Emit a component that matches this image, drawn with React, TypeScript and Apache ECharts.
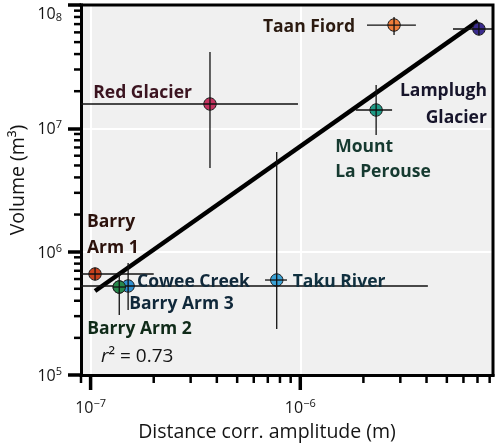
import React, { useEffect, useRef } from 'react';
import * as echarts from 'echarts';

// ---------------- data ----------------
const eventNames = [
  'Barry Arm 3',
  'Red Glacier',
  'Taan Fiord',
  'Lamplugh Glacier',
  'Mount La Perouse',
  'Taku River',
  'Barry Arm 1',
  'Cowee Creek',
  'Barry Arm 2',
];
const displayLabels = [
  'Barry Arm 3',
  'Red Glacier',
  'Taan Fiord',
  'Lamplugh\nGlacier',
  'Mount\nLa Perouse',
  'Taku River',
  'Barry\nArm 1',
  'Cowee Creek',
  'Barry Arm 2',
];
// distance-corrected amplitude (m)
const amplitudeM = [1.37e-7, 3.71e-7, 2.8e-6, 7.11e-6, 2.3e-6, 7.72e-7, 1.05e-7, 1.51e-7, 1.37e-7];
const amplitudeLow = [1.33e-7, 5e-8, 2.08e-6, 5.35e-6, 1.84e-6, 6.79e-7, 5e-8, 5e-8, 1.33e-7];
const amplitudeHigh = [1.41e-7, 9.75e-7, 3.56e-6, 9.5e-6, 2.74e-6, 8.64e-7, 2.0e-7, 4.06e-6, 1.41e-7];
// volume (m^3)
const volumeM3 = [5.17e5, 1.575e7, 6.88e7, 6.39e7, 1.408e7, 5.89e5, 6.59e5, 5.27e5, 5.17e5];
const volumeLow = [4.9e5, 4.77e6, 5.71e7, 6.0e7, 8.83e6, 2.36e5, 6.3e5, 3.37e5, 3.06e5];
const volumeHigh = [5.5e5, 4.16e7, 7.99e7, 6.8e7, 2.245e7, 6.43e6, 6.9e5, 8.09e5, 6.84e5];

// regression line end points
const fitAmplitude = [1.05e-7, 7.03e-6];
const fitVolume = [4.8e5, 7.41e7];
const rSquared = '0.73';

// axis ranges and ticks
const xMin = 9e-8;
const xMax = 8.3e-6;
const yMin = 1e5;
const yMax = 1e8;
const xMajorTicks = [1e-7, 1e-6];
const xMinorTicks = [
  9e-8, 2e-7, 3e-7, 4e-7, 5e-7, 6e-7, 7e-7, 8e-7, 9e-7,
  2e-6, 3e-6, 4e-6, 5e-6, 6e-6, 7e-6, 8e-6,
];
const yMajorTicks = [1e5, 1e6, 1e7, 1e8];
const yMinorTicks = [
  2e5, 3e5, 4e5, 5e5, 6e5, 7e5, 8e5, 9e5,
  2e6, 3e6, 4e6, 5e6, 6e6, 7e6, 8e6, 9e6,
  2e7, 3e7, 4e7, 5e7, 6e7, 7e7, 8e7, 9e7,
];

// ---------------- styles ----------------
const markerColors = ['#2f7fb0', '#c4335f', '#f07d3a', '#3a2b8e', '#1f9b86', '#3aa2d6', '#c9421d', '#2f8fd0', '#27884a'];
const labelColors = ['#10283a', '#3b1420', '#2b1a10', '#17152b', '#163a30', '#10303f', '#2c120c', '#10283a', '#0f2a18'];

const labelLayout: Record<string, { dx: number; dy: number; align: string; va: string; lh: number }> = {
  'Barry Arm 3': { dx: 10, dy: 15, align: 'left', va: 'middle', lh: 22 },
  'Red Glacier': { dx: -18, dy: -13, align: 'right', va: 'middle', lh: 22 },
  'Taan Fiord': { dx: -39, dy: 0, align: 'right', va: 'middle', lh: 22 },
  'Lamplugh Glacier': { dx: 8, dy: 46.5, align: 'right', va: 'top', lh: 27 },
  'Mount La Perouse': { dx: -41, dy: 22.5, align: 'left', va: 'top', lh: 25 },
  'Taku River': { dx: 16, dy: 0, align: 'left', va: 'middle', lh: 22 },
  'Barry Arm 1': { dx: -8, dy: -67.5, align: 'left', va: 'top', lh: 26 },
  'Cowee Creek': { dx: 9, dy: -6, align: 'left', va: 'middle', lh: 22 },
  'Barry Arm 2': { dx: -32, dy: 40, align: 'left', va: 'middle', lh: 22 },
};

const FONT = '"Open Sans", "Noto Sans", sans-serif';
const TXT = '#141414';

// tick marks drawn as short lines, placed through the axes' own scales
const tickSeries = (values: number[], dir: 'x' | 'y', len: number, width: number) => ({
  type: 'custom',
  clip: false,
  z: 6,
  data: values.map((v) => (dir === 'x' ? [v, yMin] : [xMin, v])),
  renderItem: (_p: any, api: any) => {
    const p = api.coord([api.value(0), api.value(1)]);
    const shape =
      dir === 'x'
        ? { x1: p[0], y1: p[1], x2: p[0], y2: p[1] + len }
        : { x1: p[0], y1: p[1], x2: p[0] - len, y2: p[1] };
    return { type: 'line', shape, style: { stroke: '#000', lineWidth: width } };
  },
});

export default function App() {
  const ref = useRef<HTMLDivElement>(null);

  useEffect(() => {
    if (!ref.current) return;
    const chart = echarts.init(ref.current, null, { renderer: 'svg' });

    const pointData = eventNames.map((n, i) => ({
      name: n,
      value: [amplitudeM[i], volumeM3[i], amplitudeLow[i], amplitudeHigh[i], volumeLow[i], volumeHigh[i]],
    }));
    const fitData = fitAmplitude.map((x, i) => [x, fitVolume[i]]);

    const exp = (v: number) => Math.round(Math.log10(v));
    const supText = (e: number) => (e < 0 ? '\u2212' + -e : String(e));

    const baseRich = {
      b: { fontSize: 16, fontFamily: FONT, color: TXT, lineHeight: 20 },
      s: { fontSize: 11, fontFamily: FONT, color: TXT, lineHeight: 12, verticalAlign: 'top' },
      bt: { fontSize: 16, fontFamily: FONT, color: TXT, lineHeight: 20, padding: [16, 0, 0, 0] },
      st: { fontSize: 11, fontFamily: FONT, color: TXT, lineHeight: 12, verticalAlign: 'top', padding: [16, 0, 0, 0] },
    };

    const option: any = {
      animation: false,
      grid: {
        left: 81,
        right: 7,
        top: 5,
        bottom: 71,
        show: true,
        backgroundColor: '#f0f0f0',
        borderWidth: 0,
        containLabel: false,
        outerBoundsMode: 'none',
      },
      xAxis: {
        type: 'log',
        logBase: 10,
        min: xMin,
        max: xMax,
        position: 'bottom',
        axisLine: { show: true, onZero: false, lineStyle: { color: '#000', width: 3, cap: 'square' } },
        axisTick: { show: false },
        minorTick: { show: false },
        axisLabel: {
          show: true,
          customValues: xMajorTicks,
          margin: 22,
          formatter: (v: number) => `{b|10}{s|${supText(exp(v))}}`,
          rich: baseRich,
        },
        splitLine: { show: true, lineStyle: { color: '#ffffff', width: 2 } },
        name: 'Distance corr. amplitude (m)',
        nameLocation: 'middle',
        nameGap: 45,
        nameTextStyle: { fontSize: 19.5, fontFamily: FONT, color: TXT, padding: [0, 40, 0, 0] },
      },
      yAxis: {
        type: 'log',
        logBase: 10,
        min: yMin,
        max: yMax,
        position: 'left',
        axisLine: { show: true, onZero: false, lineStyle: { color: '#000', width: 3, cap: 'square' } },
        axisTick: { show: true, length: 13, lineStyle: { color: '#000', width: 3.5 } },
        minorTick: { show: false },
        axisLabel: {
          show: true,
          customValues: yMajorTicks,
          margin: 19,
          formatter: (v: number) => {
            const e = exp(v);
            return e === 8 ? `{bt|10}{st|${e}}` : `{b|10}{s|${supText(e)}}`;
          },
          rich: baseRich,
        },
        splitLine: { show: true, lineStyle: { color: '#ffffff', width: 2 } },
        name: 'Volume (m\u00B3)',
        nameLocation: 'middle',
        nameRotate: 90,
        nameGap: 55,
        nameTextStyle: { fontSize: 19.5, fontFamily: FONT, color: TXT, padding: [0, 0, 0, 20] },
      },
      graphic: [
        {
          type: 'text',
          left: 101,
          top: 345,
          silent: true,
          style: {
            text: `{i|r}{n|\u00B2 = ${rSquared}}`,
            rich: {
              i: { fontSize: 19, fontFamily: FONT, fontStyle: 'italic', fill: TXT, color: TXT },
              n: { fontSize: 19, fontFamily: FONT, fill: TXT, color: TXT },
            },
          },
        },
      ],
      series: [
        tickSeries(xMajorTicks, 'x', 15, 3.5),
        tickSeries(xMinorTicks, 'x', 8, 2.5),
        tickSeries(yMinorTicks, 'y', 7, 2.5),
        // top and right frame lines, through the scales
        {
          type: 'line',
          data: [[xMin, yMax], [xMax, yMax], [xMax, yMin]],
          symbol: 'none',
          clip: false,
          silent: true,
          z: 5,
          lineStyle: { color: '#000', width: 3, cap: 'square', join: 'miter' },
        },
        {
          type: 'line',
          data: fitData,
          symbol: 'none',
          clip: false,
          silent: true,
          z: 2,
          lineStyle: { color: '#000', width: 4.5 },
        },
        {
          type: 'custom',
          clip: false,
          z: 3,
          data: pointData,
          renderItem: (params: any, api: any) => {
            const i = params.dataIndex;
            const x = api.value(0);
            const y = api.value(1);
            const c = api.coord([x, y]);
            const xl = api.coord([api.value(2), y]);
            const xh = api.coord([api.value(3), y]);
            const yl = api.coord([x, api.value(4)]);
            const yh = api.coord([x, api.value(5)]);
            const lo = api.coord([xMin, yMin]);
            const hi = api.coord([xMax, yMax]);
            const r = 6.2;
            const ls = { stroke: '#111', lineWidth: 1.3 };
            return {
              type: 'group',
              children: [
                {
                  type: 'circle',
                  shape: { cx: c[0], cy: c[1], r },
                  style: { fill: markerColors[i], stroke: '#1a1a1a', lineWidth: 1 },
                },
                {
                  type: 'line',
                  shape: {
                    x1: Math.max(lo[0], Math.min(xl[0], c[0] - r)),
                    y1: c[1],
                    x2: Math.min(hi[0], Math.max(xh[0], c[0] + r)),
                    y2: c[1],
                  },
                  style: ls,
                },
                {
                  type: 'line',
                  shape: {
                    x1: c[0],
                    y1: Math.min(lo[1], Math.max(yl[1], c[1] + r)),
                    x2: c[0],
                    y2: Math.max(hi[1], Math.min(yh[1], c[1] - r)),
                  },
                  style: ls,
                },
              ],
            };
          },
        },
        {
          type: 'custom',
          clip: false,
          z: 4,
          data: pointData,
          renderItem: (params: any, api: any) => {
            const i = params.dataIndex;
            const L = labelLayout[eventNames[i]];
            const c = api.coord([api.value(0), api.value(1)]);
            return {
              type: 'text',
              x: c[0] + L.dx,
              y: c[1] + L.dy,
              style: {
                text: displayLabels[i],
                fill: labelColors[i],
                fontSize: 17.5,
                fontWeight: 700,
                fontFamily: FONT,
                align: L.align,
                verticalAlign: L.va,
                textAlign: L.align,
                textVerticalAlign: L.va,
                lineHeight: L.lh,
              },
            };
          },
        },
      ],
    };

    chart.setOption(option);
    return () => {
      chart.dispose();
    };
  }, []);

  return (
    <div
      ref={ref}
      style={{ position: 'fixed', left: 0, top: 0, width: 500, height: 446 }}
    />
  );
}
